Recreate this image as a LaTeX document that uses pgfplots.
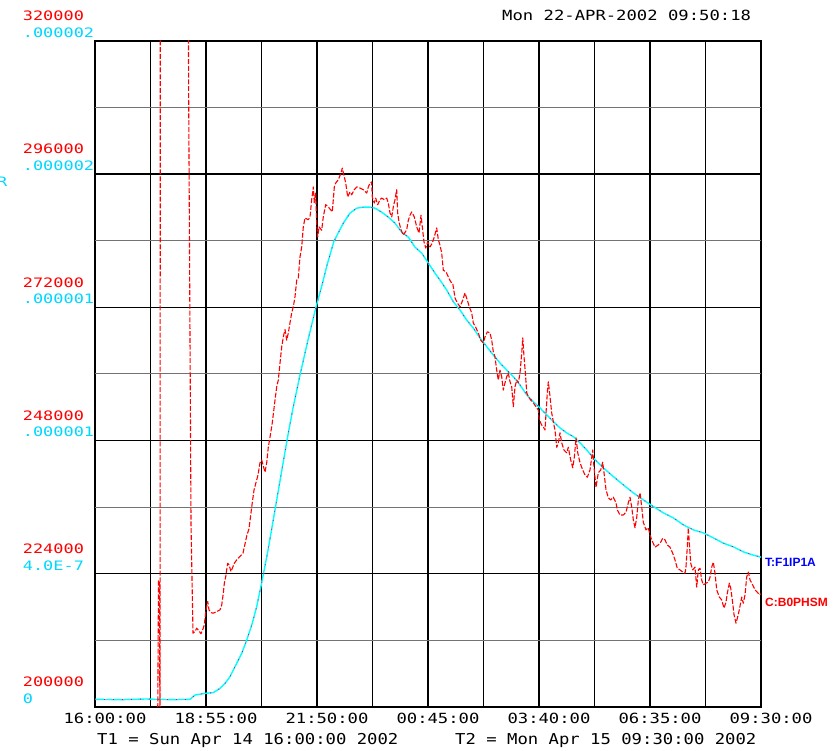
\documentclass[border=0pt]{standalone}
\usepackage{pgfplots}
\pgfplotsset{compat=1.18}
\usepackage{pgfplotstable}
\usepackage{fontspec}
\setmainfont{DejaVu Sans Mono}
\newfontfamily\pixA[FakeStretch=1.23]{DejaVu Sans Mono}
\newfontfamily\pixB[FakeStretch=1.30]{DejaVu Sans Mono}
\newfontfamily\pixC[FakeStretch=1.15]{DejaVu Sans Mono}
\newfontfamily\tagfont{Liberation Sans}

\definecolor{trcyan}{RGB}{0,255,255}
\definecolor{trlabel}{RGB}{0,215,255}
\definecolor{trblue}{RGB}{0,0,255}
\definecolor{trred}{RGB}{255,0,0}

% C:B0PHSM, minutes after T1 vs. reading
\pgfplotstableread{
t v
98.5 190000
100.1 222700
101.7 222700
102.5 190000
103.0 340000
146.6 340000
147.7 309700
151.4 232800
154.5 213300
157.7 213600
160.3 214200
164.0 213700
167.1 213200
170.7 214200
172.3 214800
175.0 217500
177.7 219000
179.7 217500
182.9 217000
186.5 216900
191.9 217200
197.1 217500
199.8 218400
202.3 220500
203.9 222300
206.1 223500
207.6 224700
209.2 225900
211.3 225600
214.4 224400
216.5 225000
219.6 225900
223.4 226500
233.3 227700
239.6 231000
242.8 232100
247.5 236400
250.7 239100
257.0 241800
260.1 244000
262.8 244500
268.0 242300
270.7 244000
273.2 246800
275.9 248600
279.5 251200
283.8 255300
286.5 257700
289.0 258900
291.7 262000
294.4 264900
296.9 266700
299.6 268000
302.2 266100
304.8 267400
307.4 269200
310.1 271000
312.6 272100
315.3 273900
318.0 276900
320.5 277300
323.2 281100
325.9 282900
328.4 286500
331.1 288100
336.3 287800
339.0 288300
341.6 291400
344.2 293700
345.7 290900
347.9 292600
349.5 287200
351.1 284700
353.2 286500
357.4 285900
359.9 288300
363.7 290500
367.8 290100
372.1 289500
374.1 289200
375.7 291400
377.3 293700
379.5 294400
383.6 295000
387.8 296200
389.9 297100
393.1 295500
395.3 294400
398.4 291900
402.0 292800
404.7 292300
408.8 293200
412.6 293700
417.8 293500
423.0 293200
428.4 292600
430.9 293700
433.6 294400
436.2 294600
437.2 291900
440.3 290800
442.5 291700
445.7 290500
449.3 291400
452.0 291700
456.1 291400
459.9 291700
462.4 290800
465.1 289000
467.8 288300
470.3 290100
473.0 291400
475.6 293200
477.2 289000
479.3 287400
482.4 286000
486.1 285000
491.4 286000
494.0 287700
496.6 288600
499.3 289200
503.4 288300
507.2 286500
510.8 285400
514.0 288600
516.0 286500
518.7 283800
521.4 282700
524.5 283800
528.2 282900
531.8 283600
534.9 284700
538.7 286300
541.3 284200
543.9 283200
546.6 281800
549.1 278700
553.4 278400
557.0 277500
560.8 276600
563.9 276400
567.6 273700
571.2 272800
575.5 272100
579.7 273300
583.3 274600
587.0 273300
590.1 272100
593.9 271000
596.4 269200
600.7 268300
604.3 267400
608.1 266100
612.2 265600
614.9 266700
618.5 267600
622.8 267400
625.4 266100
628.0 264000
630.6 263100
633.3 260700
635.8 258900
638.5 260700
641.2 259500
643.7 257100
646.4 258400
649.1 259500
651.6 260200
654.3 258600
657.0 257700
659.5 254100
662.2 257700
664.9 258900
667.4 258400
670.1 260200
672.8 263800
674.4 266500
676.4 263100
678.5 260200
680.7 256600
683.2 255900
687.0 255300
691.0 254800
695.3 254100
698.9 253500
700.5 251700
704.3 250800
706.8 250500
709.5 249900
711.1 253000
713.1 256600
714.7 258600
717.4 255900
720.0 253000
722.6 251400
725.2 249900
728.0 246800
730.5 247600
733.1 249400
735.8 247600
739.4 246300
743.7 245800
746.2 246800
750.0 244500
753.2 243100
755.7 245000
758.4 248500
761.1 245800
764.7 244000
768.9 242700
772.6 241800
776.2 241400
780.4 242700
783.1 245000
784.7 246300
786.7 243200
789.9 239600
793.5 242200
797.3 242700
800.4 244100
802.5 242200
805.7 239100
809.3 237700
813.0 237300
817.2 237800
821.4 236800
823.5 235500
827.7 234600
833.0 234600
837.2 235100
840.8 236800
843.5 237800
846.2 236000
848.7 233700
851.4 232300
854.1 234200
856.6 237300
859.3 238600
862.0 236000
864.4 233300
868.7 231900
872.3 232300
875.0 231000
877.7 230100
882.9 228800
888.1 229200
891.9 229700
895.0 230400
898.7 230100
902.3 229200
906.5 228800
910.8 227700
914.4 226500
918.0 225000
922.3 224700
926.5 224300
930.2 224100
931.7 225200
933.8 228800
935.4 232300
937.0 229500
939.2 225900
942.3 224700
945.9 225200
948.6 221600
951.2 224700
953.8 225000
956.5 222900
959.0 222000
963.3 222300
966.9 222500
969.6 223400
972.3 225200
974.8 226100
977.5 224100
980.2 221100
984.3 219800
988.0 219300
991.7 217800
994.8 218900
996.9 220500
1000.1 222300
1002.3 221400
1005.4 218700
1007.5 216600
1010.6 215100
1012.7 216000
1015.8 217500
1019.6 219800
1022.1 218700
1024.8 220200
1027.4 223400
1030.0 224300
1032.7 222900
1036.9 222000
1040.6 221100
1044.2 220700
1047.4 220200
1050.0 220400
}\redtrace

% T:F1IP1A, minutes after T1 vs. reading
\pgfplotstableread{
t c
0 0.023e-6
40 0.022e-6
80 0.024e-6
120 0.022e-6
149.8 0.023e-6
157.7 0.036e-6
173.4 0.041e-6
186.5 0.043e-6
197.1 0.056e-6
205.0 0.071e-6
212.8 0.091e-6
220.7 0.121e-6
231.3 0.161e-6
239.2 0.201e-6
247.1 0.246e-6
254.9 0.301e-6
263.0 0.375e-6
272.8 0.471e-6
283.8 0.592e-6
293.3 0.697e-6
302.8 0.802e-6
312.2 0.898e-6
323.2 0.997e-6
335.8 1.102e-6
348.4 1.201e-6
357.9 1.267e-6
365.8 1.327e-6
376.8 1.399e-6
391.5 1.453e-6
402.0 1.483e-6
412.6 1.498e-6
423.0 1.501e-6
433.6 1.501e-6
441.4 1.498e-6
452.0 1.486e-6
462.4 1.471e-6
473.0 1.453e-6
483.5 1.426e-6
494.0 1.411e-6
504.5 1.381e-6
515.1 1.363e-6
525.5 1.333e-6
536.0 1.303e-6
543.9 1.282e-6
554.5 1.252e-6
564.9 1.217e-6
575.5 1.192e-6
586.0 1.162e-6
596.4 1.138e-6
607.0 1.108e-6
617.6 1.082e-6
628.0 1.057e-6
638.5 1.033e-6
649.1 1.012e-6
659.5 0.992e-6
670.1 0.967e-6
680.7 0.937e-6
691.0 0.917e-6
701.6 0.898e-6
712.2 0.877e-6
722.6 0.857e-6
733.1 0.838e-6
743.7 0.823e-6
754.1 0.812e-6
764.7 0.793e-6
775.2 0.772e-6
785.6 0.748e-6
801.4 0.718e-6
817.2 0.692e-6
832.9 0.667e-6
848.7 0.643e-6
864.4 0.622e-6
880.2 0.602e-6
896.0 0.583e-6
911.8 0.568e-6
927.5 0.547e-6
943.3 0.532e-6
959.0 0.523e-6
974.8 0.508e-6
990.6 0.492e-6
1006.3 0.481e-6
1022.1 0.466e-6
1037.9 0.456e-6
1050.0 0.450e-6
}\cyantrace

\begin{document}
\begin{tikzpicture}
\path[use as bounding box] (0,0) rectangle (836pt,751pt);
\pgfplotsset{
  trendframe/.style={
    at={(95pt,44pt)}, anchor=south west,
    scale only axis, width=666pt, height=666pt,
    xmin=0, xmax=1050,
    xtick={0,87.5,...,1050},
    major tick length=0pt, minor tick length=0pt,
    tick style={draw=none},
    scaled y ticks=false, scaled x ticks=false,
  },
}
% grid, frame, time axis and T:F1IP1A scale
\begin{axis}[trendframe,
  ymin=0, ymax=2e-6,
  ytick={0,0.4e-6,0.8e-6,1.2e-6,1.6e-6,2e-6},
  extra y ticks={0.2e-6,0.6e-6,1.0e-6,1.4e-6,1.8e-6},
  extra y tick labels={},
  extra y tick style={grid=major, major grid style={black!55, line width=1pt}},
  grid=major,
  major grid style={black, line width=1.4pt},
  axis line style={black, line width=1.6pt},
  xticklabels={16:00:00,,18:55:00,,21:50:00,,00:45:00,,03:40:00,,06:35:00,,09:30:00},
  xticklabel style={font=\fontsize{14}{16}\selectfont\pixA, text=black,
    anchor=center, xshift=10pt, yshift=-11pt},
  yticklabels={0,4.0E-7,.000001,.000001,.000002,.000002},
  yticklabel style={font=\fontsize{13}{15}\selectfont\pixB, text=trlabel,
    anchor=base west, inner sep=0pt, xshift=-72.3pt, yshift=3.7pt},
]
\addplot[trcyan, line width=1.4pt, line join=round] table {\cyantrace};
\addplot[magenta, line width=0.8pt, dash pattern=on 1pt off 8pt] table {\cyantrace};
\end{axis}
% C:B0PHSM scale and trace
\begin{axis}[trendframe,
  ymin=200000, ymax=320000,
  ytick={200000,224000,...,320000},
  axis line style={draw=none},
  xticklabels={},
  yticklabels={200000,224000,248000,272000,296000,320000},
  yticklabel style={font=\fontsize{13}{15}\selectfont\pixB, text=trred,
    anchor=base west, inner sep=0pt, xshift=-72.3pt, yshift=20.3pt},
]
\addplot[trred, line width=1.1pt, line join=round, dash pattern=on 5pt off 1.8pt] table {\redtrace};
\end{axis}

\node[anchor=west, inner sep=0pt, font=\fontsize{14}{16}\selectfont\pixA]
  at (502pt,736pt) {Mon 22-APR-2002 09:50:18};
\node[anchor=west, inner sep=0pt, font=\fontsize{15}{17}\selectfont\pixC]
  at (97pt,10pt) {T1 = Sun Apr 14 16:00:00 2002};
\node[anchor=west, inner sep=0pt, font=\fontsize{15}{17}\selectfont\pixC]
  at (455pt,10pt) {T2 = Mon Apr 15 09:30:00 2002};
\node[anchor=west, inner sep=0pt, font=\fontsize{12}{14}\selectfont\tagfont\bfseries, text=trblue]
  at (765pt,189pt) {T:F1IP1A};
\node[anchor=west, inner sep=0pt, font=\fontsize{12}{14}\selectfont\tagfont\bfseries, text=trred]
  at (765pt,149pt) {C:B0PHSM};
\node[anchor=base west, inner sep=0pt, font=\fontsize{13}{15}\selectfont\pixB, text=trlabel]
  at (-3pt,564.3pt) {R};
\end{tikzpicture}
\end{document}
